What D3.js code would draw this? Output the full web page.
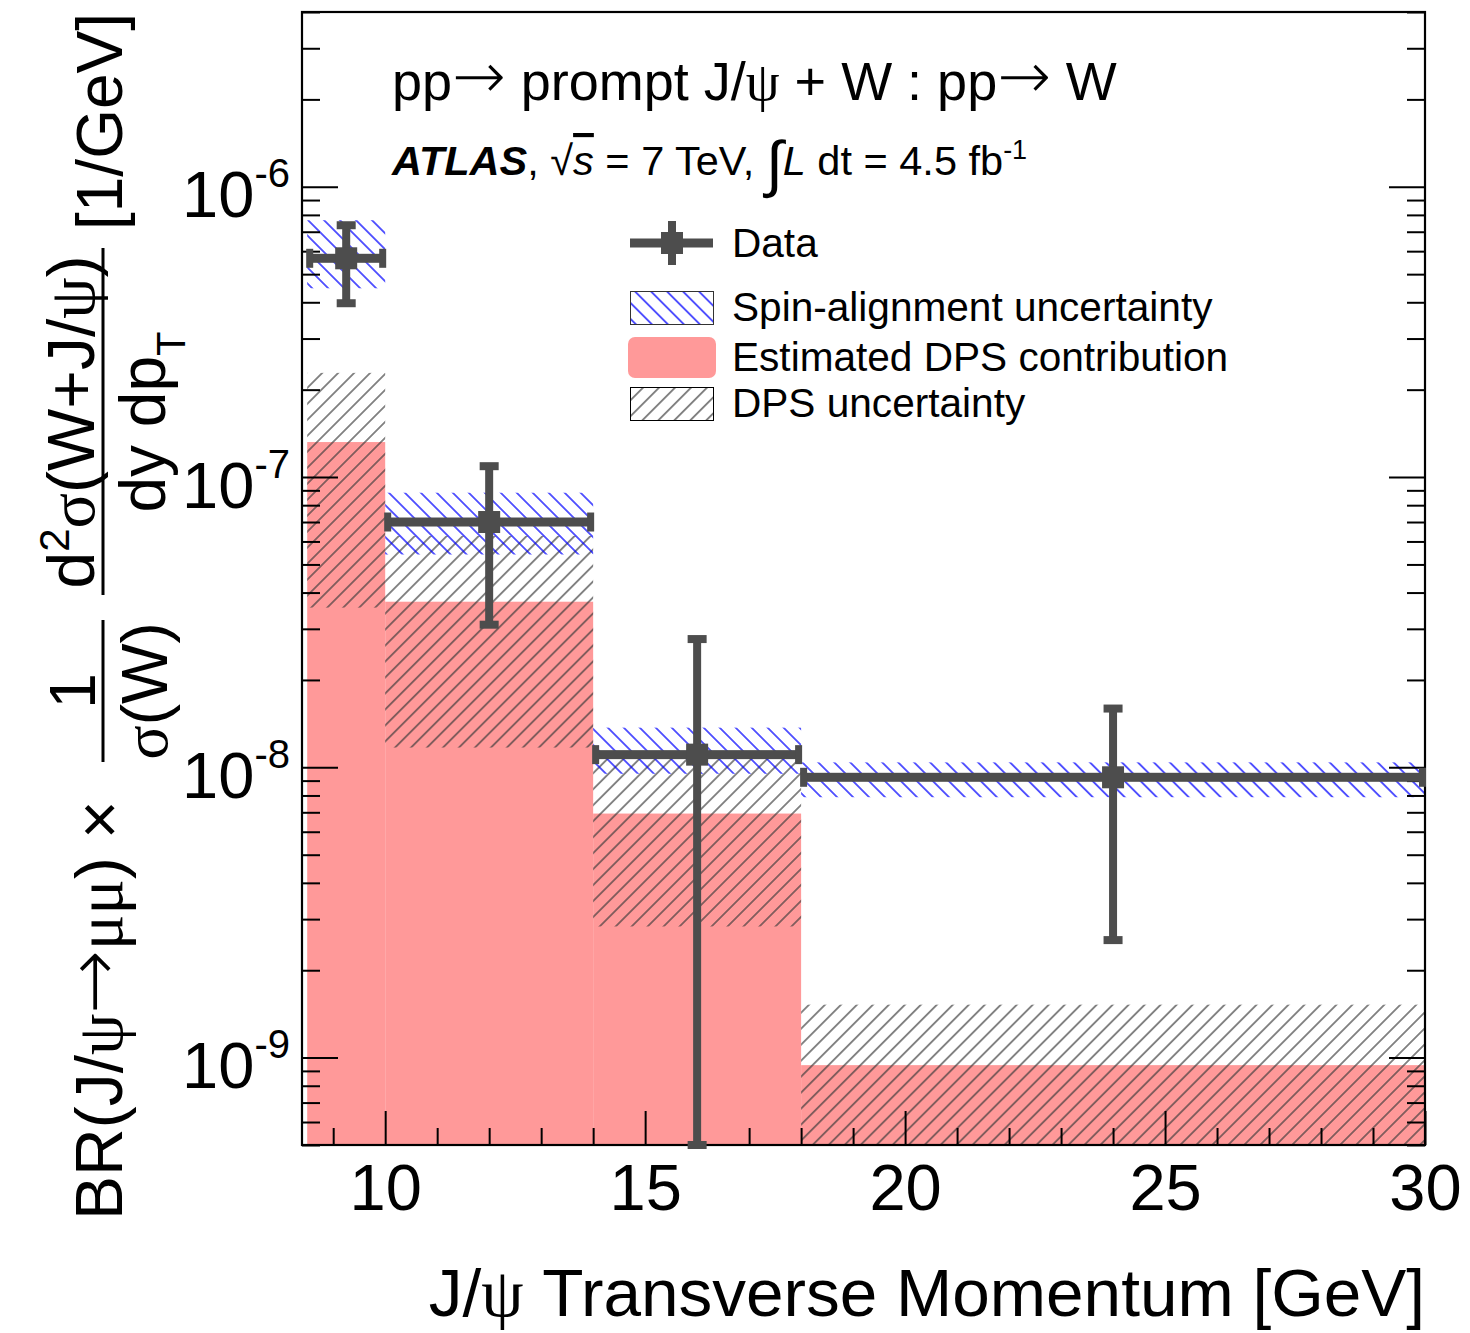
<!DOCTYPE html>
<html><head><meta charset="utf-8">
<script src="https://cdn.jsdelivr.net/npm/d3@7"></script>
<style>
body{margin:0;background:#fff}
svg{display:block}
text{font-family:"Liberation Sans",Arial,Helvetica,sans-serif;fill:#000}
.gr{font-family:"Liberation Serif","Times New Roman",serif}
.ar{font-family:"DejaVu Sans",sans-serif;font-weight:200}
</style>
</head><body><svg id="c" width="1470" height="1333"></svg>
<script>
// ---- data ----
const binLow   = [8.5, 10, 14, 18];
const binHigh  = [10, 14, 18, 30];
const dataX    = [9.25, 12, 16, 24];
const dataY    = [5.67e-7, 7.0e-8, 1.106e-8, 9.24e-9];
const dataErr  = [1.7e-7, 3.9e-8, 1.66e-8, 6.7e-9];
const spinUp   = [7.67e-7, 8.83e-8, 1.37e-8, 1.04e-8];
const spinDown = [4.47e-7, 5.41e-8, 9.5e-9, 7.89e-9];
const dpsY     = [1.32e-7, 3.72e-8, 6.93e-9, 9.42e-10];
const dpsErr   = [9.65e-8, 2.55e-8, 4.1e-9, 5.8e-10];
const xMajorTicks = [10, 15, 20, 25, 30];
const xMinorTicks = [9, 11, 12, 13, 14, 16, 17, 18, 19, 21, 22, 23, 24, 26, 27, 28, 29];
const yMajorTicks = [1e-9, 1e-8, 1e-7, 1e-6];
const yTickExp    = ["-9", "-8", "-7", "-6"];
const legendLabels = ["Data", "Spin-alignment uncertainty", "Estimated DPS contribution", "DPS uncertainty"];

const L = 302, R = 1425, T = 12, B = 1145;
const yMin = 5e-10, yMax = 4e-6;
const x = d3.scaleLinear().domain([8.4, 30]).range([L, R]);
const y = d3.scaleLog().domain([yMin, yMax]).range([B, T]);

const yMinorTicks = [];
[-10, -9, -8, -7, -6].forEach(e => { for (let m = 2; m <= 9; m++) { const v = m * Math.pow(10, e); if (v >= yMin && v <= yMax) yMinorTicks.push(v); } });

const svg = d3.select("#c");
const defs = svg.append("defs");
function hatch(id, angle, color, width) {
  const s = 11.3;
  const p = defs.append("pattern").attr("id", id).attr("patternUnits", "userSpaceOnUse")
    .attr("width", s).attr("height", s).attr("patternTransform", `rotate(${angle})`);
  p.append("line").attr("x1", s / 2).attr("y1", -1).attr("x2", s / 2).attr("y2", s + 1)
    .attr("stroke", color).attr("stroke-width", width);
}
hatch("hBlue", -45, "#0000ff", 1.3);
hatch("hBlack", 45, "#3a3a3a", 1.2);
defs.append("clipPath").attr("id", "plotClip").append("rect")
  .attr("x", L).attr("y", T).attr("width", R - L).attr("height", B - T);

const plot = svg.append("g").attr("clip-path", "url(#plotClip)");
const idx = d3.range(binLow.length);
const PINK = "#ff9999", DARK = "#4d4d4d";

plot.selectAll("rect.dps").data(idx).join("rect").attr("class", "dps")
  .attr("x", i => x(binLow[i])).attr("width", i => x(binHigh[i]) - x(binLow[i]))
  .attr("y", i => y(dpsY[i])).attr("height", i => B - y(dpsY[i]))
  .attr("fill", PINK);
plot.selectAll("rect.dpsu").data(idx).join("rect").attr("class", "dpsu")
  .attr("x", i => x(binLow[i])).attr("width", i => x(binHigh[i]) - x(binLow[i]))
  .attr("y", i => y(dpsY[i] + dpsErr[i]))
  .attr("height", i => y(Math.max(dpsY[i] - dpsErr[i], yMin / 2)) - y(dpsY[i] + dpsErr[i]))
  .attr("fill", "url(#hBlack)");
plot.selectAll("rect.spin").data(idx).join("rect").attr("class", "spin")
  .attr("x", i => x(binLow[i])).attr("width", i => x(binHigh[i]) - x(binLow[i]))
  .attr("y", i => y(spinUp[i])).attr("height", i => y(spinDown[i]) - y(spinUp[i]))
  .attr("fill", "url(#hBlue)");

svg.append("rect").attr("x", L).attr("y", T).attr("width", R - L).attr("height", B - T)
  .attr("fill", "none").attr("stroke", "#000").attr("stroke-width", 2.2);

function styleAxis(g) { g.select(".domain").remove(); g.selectAll("line").attr("stroke", "#000").attr("stroke-width", 2); }
svg.append("g").attr("transform", `translate(0,${B})`)
  .call(d3.axisBottom(x).tickValues(xMinorTicks).tickSize(-17).tickFormat(""))
  .call(styleAxis);
const xa = svg.append("g").attr("transform", `translate(0,${B})`)
  .call(d3.axisBottom(x).tickValues(xMajorTicks).tickSize(-34).tickFormat(d3.format("d")))
  .call(styleAxis);
xa.selectAll("text").attr("y", 65).attr("dy", null).attr("font-size", 65)
  .attr("font-family", "Liberation Sans, Arial, sans-serif").attr("fill", "#000");

svg.append("g").attr("transform", `translate(${L},0)`)
  .call(d3.axisLeft(y).tickValues(yMinorTicks).tickSize(-18).tickFormat(""))
  .call(styleAxis);
const ya = svg.append("g").attr("transform", `translate(${L},0)`)
  .call(d3.axisLeft(y).tickValues(yMajorTicks).tickSize(-36).tickFormat(""))
  .call(styleAxis);
ya.selectAll(".tick text").each(function (d, i) {
  const t = d3.select(this).attr("x", -12).attr("dy", null).attr("y", 30)
    .attr("text-anchor", "end").attr("font-size", 65).attr("fill", "#000")
    .attr("font-family", "Liberation Sans, Arial, sans-serif");
  t.text(null);
  t.append("tspan").text("10");
  t.append("tspan").attr("font-size", 40).attr("dy", -30).text(yTickExp[i]);
});
svg.append("g").attr("transform", `translate(${R},0)`)
  .call(d3.axisRight(y).tickValues(yMinorTicks).tickSize(-18).tickFormat(""))
  .call(styleAxis);
svg.append("g").attr("transform", `translate(${R},0)`)
  .call(d3.axisRight(y).tickValues(yMajorTicks).tickSize(-36).tickFormat(""))
  .call(styleAxis);

const dg = svg.append("g").attr("fill", DARK);
function lowEnd(i) { return Math.max(dataY[i] - dataErr[i], yMin); }
dg.selectAll("rect.hb").data(idx).join("rect")
  .attr("x", i => x(binLow[i])).attr("width", i => x(binHigh[i]) - x(binLow[i]))
  .attr("y", i => y(dataY[i]) - 4.5).attr("height", 9);
dg.selectAll("rect.hcL").data(idx).join("rect")
  .attr("x", i => x(binLow[i]) - 1).attr("width", 7)
  .attr("y", i => y(dataY[i]) - 9.5).attr("height", 19);
dg.selectAll("rect.hcR").data(idx).join("rect")
  .attr("x", i => x(binHigh[i]) - 6).attr("width", 7)
  .attr("y", i => y(dataY[i]) - 9.5).attr("height", 19);
dg.selectAll("rect.vb").data(idx).join("rect")
  .attr("x", i => x(dataX[i]) - 4).attr("width", 8)
  .attr("y", i => y(dataY[i] + dataErr[i])).attr("height", i => y(lowEnd(i)) - y(dataY[i] + dataErr[i]));
dg.selectAll("rect.vcT").data(idx).join("rect")
  .attr("x", i => x(dataX[i]) - 9.5).attr("width", 19)
  .attr("y", i => y(dataY[i] + dataErr[i]) - 4).attr("height", 8);
dg.selectAll("rect.vcB").data(idx).join("rect")
  .attr("x", i => x(dataX[i]) - 9.5).attr("width", 19)
  .attr("y", i => y(lowEnd(i)) - 4).attr("height", 8);
dg.selectAll("rect.mk").data(idx).join("rect")
  .attr("x", i => x(dataX[i]) - 11).attr("width", 22)
  .attr("y", i => y(dataY[i]) - 11).attr("height", 22);

// title lines
const t1 = svg.append("text").attr("x", 392).attr("y", 100).attr("font-size", 54);
t1.append("tspan").text("pp");
t1.append("tspan").attr("class", "ar").attr("font-size", 64).attr("dy", -2).text("\u2192");
t1.append("tspan").attr("dy", 2).text(" prompt J/");
t1.append("tspan").attr("class", "gr").text("\u03c8");
t1.append("tspan").text(" + W : pp");
t1.append("tspan").attr("class", "ar").attr("font-size", 64).attr("dy", -2).text("\u2192");
t1.append("tspan").attr("dy", 2).text(" W");

const t2 = svg.append("text").attr("x", 392).attr("y", 175).attr("font-size", 41.5);
t2.append("tspan").attr("font-weight", "bold").attr("font-style", "italic").text("ATLAS");
t2.append("tspan").text(", \u221a");
t2.append("tspan").attr("font-style", "italic").attr("text-decoration", "overline").text("s");
t2.append("tspan").text(" = 7 TeV, ");
t2.append("tspan").attr("font-size", 62).attr("dy", 10).text("\u222b");
t2.append("tspan").attr("font-style", "italic").attr("dy", -10).text("L");
t2.append("tspan").text(" dt = 4.5 fb");
t2.append("tspan").attr("font-size", 27).attr("dy", -16).text("-1");

// legend
const lg = svg.append("g");
lg.append("rect").attr("x", 630).attr("y", 238.5).attr("width", 83).attr("height", 9).attr("fill", DARK);
lg.append("rect").attr("x", 668).attr("y", 221).attr("width", 8).attr("height", 44).attr("fill", DARK);
lg.append("rect").attr("x", 661).attr("y", 232).attr("width", 22).attr("height", 22).attr("fill", DARK);
lg.append("rect").attr("x", 630.5).attr("y", 291.5).attr("width", 83).attr("height", 33)
  .attr("fill", "url(#hBlue)").attr("stroke", "#333").attr("stroke-width", 1);
lg.append("rect").attr("x", 628).attr("y", 337).attr("width", 88).attr("height", 41).attr("rx", 7)
  .attr("fill", PINK);
lg.append("rect").attr("x", 630.5).attr("y", 387.5).attr("width", 83).attr("height", 33)
  .attr("fill", "url(#hBlack)").attr("stroke", "#000").attr("stroke-width", 1);
const legY = [257, 321, 371, 417];
lg.selectAll("text.lt").data(legendLabels).join("text").attr("class", "lt")
  .attr("x", 732).attr("y", (d, i) => legY[i]).attr("font-size", 40.6).text(d => d);

// x-axis title
const xt = svg.append("text").attr("x", 1425).attr("y", 1316).attr("font-size", 67.5).attr("text-anchor", "end");
xt.append("tspan").text("J/");
xt.append("tspan").attr("class", "gr").text("\u03c8");
xt.append("tspan").text(" Transverse Momentum [GeV]");

// y-axis title (rotated)
const yg = svg.append("g").attr("transform", "translate(0,1220) rotate(-90)");
const m1 = yg.append("text").attr("x", 0).attr("y", 122).attr("font-size", 66);
m1.append("tspan").text("BR(J/");
m1.append("tspan").attr("class", "gr").text("\u03c8");
m1.append("tspan").attr("class", "ar").attr("font-size", 76).attr("dy", -3).text("\u2192");
m1.append("tspan").attr("class", "gr").attr("dy", 3).text("\u03bc\u03bc");
m1.append("tspan").text(") \u00d7");
yg.append("line").attr("x1", 458).attr("x2", 600).attr("y1", 103).attr("y2", 103).attr("stroke", "#000").attr("stroke-width", 3);
yg.append("text").attr("x", 529).attr("y", 95).attr("font-size", 64).attr("text-anchor", "middle").text("1");
const den1 = yg.append("text").attr("x", 529).attr("y", 167).attr("font-size", 64).attr("text-anchor", "middle");
den1.append("tspan").attr("class", "gr").text("\u03c3");
den1.append("tspan").text("(W)");
yg.append("line").attr("x1", 625).attr("x2", 972).attr("y1", 103).attr("y2", 103).attr("stroke", "#000").attr("stroke-width", 3);
const num2 = yg.append("text").attr("x", 798).attr("y", 94).attr("font-size", 66).attr("text-anchor", "middle");
num2.append("tspan").text("d");
num2.append("tspan").attr("font-size", 42).attr("dy", -25).text("2");
num2.append("tspan").attr("class", "gr").attr("dy", 25).text("\u03c3");
num2.append("tspan").text("(W+J/");
num2.append("tspan").attr("class", "gr").text("\u03c8");
num2.append("tspan").text(")");
const den2 = yg.append("text").attr("x", 798).attr("y", 165).attr("font-size", 64).attr("text-anchor", "middle");
den2.append("tspan").text("dy dp");
den2.append("tspan").attr("font-size", 40).attr("dy", 20).text("T");
yg.append("text").attr("x", 990).attr("y", 122).attr("font-size", 64).text("[1/GeV]");
</script>
</body></html>
